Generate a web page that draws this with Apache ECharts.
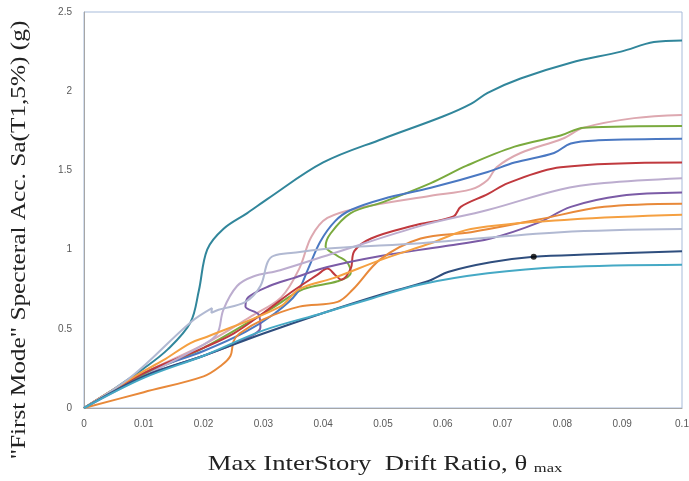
<!DOCTYPE html>
<html><head><meta charset="utf-8">
<script src="https://cdn.jsdelivr.net/npm/echarts@6/dist/echarts.min.js"></script>
<style>html,body{margin:0;padding:0;background:#fff}#c{width:689px;height:481px}</style>
</head><body><div id="c"></div>
<script>
var xTickLabels = ['0','0.01','0.02','0.03','0.04','0.05','0.06','0.07','0.08','0.09','0.1'];
var yTickLabels = ['0','0.5','1','1.5','2','2.5'];
var xTitle = 'Max InterStory  Drift Ratio, θ ';
var xTitleSub = 'max';
var yTitle = '"First Mode" Specteral Acc. Sa(T1,5%) (g)';

var tealData = [[0,0],[0.005,0.12],[0.01,0.25],[0.014,0.37],[0.0178,0.54],[0.0192,0.74],[0.0206,1.0],[0.0233,1.13],[0.0273,1.23],[0.0307,1.32],[0.04,1.55],[0.05,1.70],[0.06,1.84],[0.0647,1.92],[0.0675,1.99],[0.073,2.08],[0.0814,2.18],[0.0898,2.25],[0.0953,2.31],[0.1,2.32]];
var pinkData = [[0,0],[0.01,0.22],[0.02,0.4],[0.028,0.58],[0.033,0.7],[0.036,0.88],[0.038,1.08],[0.0407,1.2],[0.047,1.27],[0.058,1.34],[0.0647,1.38],[0.0675,1.44],[0.069,1.52],[0.073,1.61],[0.08,1.7],[0.0836,1.77],[0.092,1.83],[0.1,1.85]];
var greenData = [[0,0],[0.01,0.21],[0.02,0.38],[0.031,0.62],[0.0367,0.75],[0.0424,0.80],[0.0446,0.85],[0.044,0.92],[0.0424,0.96],[0.0404,1.02],[0.0412,1.1],[0.0446,1.23],[0.05,1.30],[0.058,1.42],[0.064,1.53],[0.072,1.65],[0.0797,1.72],[0.0836,1.77],[0.1,1.78]];
var blueData = [[0,0],[0.01,0.22],[0.02,0.36],[0.027,0.48],[0.032,0.6],[0.0355,0.72],[0.0375,0.88],[0.0395,1.05],[0.042,1.18],[0.0446,1.25],[0.05,1.32],[0.058,1.39],[0.0675,1.49],[0.072,1.55],[0.0786,1.61],[0.0814,1.67],[0.086,1.69],[0.1,1.70]];
var redData = [[0,0],[0.01,0.22],[0.02,0.38],[0.025,0.47],[0.03,0.6],[0.035,0.74],[0.039,0.84],[0.0407,0.88],[0.042,0.84],[0.043,0.81],[0.0446,0.88],[0.0452,0.99],[0.048,1.07],[0.055,1.15],[0.0618,1.21],[0.063,1.27],[0.0675,1.35],[0.0709,1.42],[0.0797,1.52],[0.1,1.55]];
var lightPurpleData = [[0,0],[0.01,0.2],[0.02,0.4],[0.0223,0.47],[0.0233,0.62],[0.0256,0.77],[0.0283,0.83],[0.0328,0.87],[0.042,0.98],[0.0563,1.15],[0.0675,1.25],[0.0797,1.38],[0.087,1.42],[0.1,1.45]];
var purpleData = [[0,0],[0.01,0.2],[0.02,0.33],[0.026,0.42],[0.0295,0.51],[0.0292,0.59],[0.027,0.64],[0.0275,0.7],[0.031,0.77],[0.035,0.82],[0.0407,0.89],[0.0496,0.96],[0.06,1.02],[0.068,1.07],[0.076,1.17],[0.0814,1.27],[0.0898,1.34],[0.1,1.36]];
var orangeAData = [[0,0],[0.01,0.1],[0.02,0.2],[0.023,0.27],[0.0245,0.33],[0.025,0.42],[0.026,0.47],[0.03,0.56],[0.036,0.64],[0.0424,0.67],[0.045,0.75],[0.0496,0.94],[0.0563,1.07],[0.0647,1.11],[0.076,1.19],[0.087,1.27],[0.1,1.29]];
var orangeBData = [[0,0],[0.0094,0.22],[0.0132,0.30],[0.0178,0.41],[0.0206,0.45],[0.0328,0.64],[0.036,0.75],[0.0417,0.82],[0.05,0.94],[0.058,1.04],[0.0647,1.13],[0.0814,1.19],[0.1,1.22]];
var greyData = [[0,0],[0.008,0.2],[0.0178,0.54],[0.0214,0.63],[0.0213,0.6],[0.0225,0.62],[0.027,0.67],[0.0295,0.77],[0.0307,0.92],[0.0317,0.96],[0.035,0.98],[0.042,1.01],[0.0563,1.04],[0.0797,1.11],[0.1,1.13]];
var navyData = [[0,0],[0.01,0.2],[0.02,0.33],[0.03,0.47],[0.04,0.6],[0.05,0.72],[0.0575,0.8],[0.061,0.86],[0.068,0.92],[0.0752,0.955],[0.085,0.97],[0.1,0.99]];
var cyanData = [[0,0],[0.01,0.19],[0.02,0.33],[0.03,0.49],[0.04,0.6],[0.048,0.69],[0.0563,0.78],[0.0675,0.85],[0.08,0.89],[0.1,0.905]];
var dotData = [[0.0752,0.955]];

var seriesDefs = [
  ['Teal', tealData, '#31869B'],
  ['Pink', pinkData, '#DDA8B0'],
  ['Green', greenData, '#7AAA3E'],
  ['Blue', blueData, '#4A78C2'],
  ['Red', redData, '#C0393E'],
  ['LightPurple', lightPurpleData, '#BCADCF'],
  ['Purple', purpleData, '#7B5BA6'],
  ['OrangeA', orangeAData, '#E8893A'],
  ['OrangeB', orangeBData, '#F5A041'],
  ['Grey', greyData, '#B1B9D2'],
  ['Navy', navyData, '#2F4E7E'],
  ['Cyan', cyanData, '#45A9C5']
];

var series = seriesDefs.map(function (d) {
  return {
    name: d[0], type: 'line', data: d[1], smooth: 0.35, showSymbol: false,
    lineStyle: { color: d[2], width: 2 }, itemStyle: { color: d[2] }
  };
});
series.push({
  name: 'Dot', type: 'scatter', data: dotData, symbolSize: 6,
  itemStyle: { color: '#000' }, z: 5
});

var chart = echarts.init(document.getElementById('c'));
chart.setOption({
  animation: false,
  backgroundColor: '#fff',
  grid: { left: 84, right: 7, top: 12, bottom: 73, show: true, borderColor: '#A7BBDA', borderWidth: 1,
    containLabel: false, outerBoundsMode: 'none' },
  xAxis: {
    type: 'value', min: 0, max: 0.1, interval: 0.01,
    axisLine: { show: true, lineStyle: { color: '#A6A6A6', width: 1 } },
    axisTick: { show: false }, splitLine: { show: false },
    axisLabel: { color: '#595959', fontSize: 10, fontFamily: 'Liberation Sans', margin: 11,
      formatter: function (v, i) { return xTickLabels[i]; } }
  },
  yAxis: {
    type: 'value', min: 0, max: 2.5, interval: 0.5,
    axisLine: { show: true, lineStyle: { color: '#A6A6A6', width: 1 } },
    axisTick: { show: false }, splitLine: { show: false },
    axisLabel: { color: '#595959', fontSize: 10, fontFamily: 'Liberation Sans', margin: 12,
      formatter: function (v, i) { return yTickLabels[i]; } }
  },
  graphic: [
    { type: 'text', x: 385, y: 464, scaleX: 1.27, scaleY: 1,
      style: { text: '{a|' + xTitle + '}{b|' + xTitleSub + '}', align: 'center', verticalAlign: 'middle',
        rich: {
          a: { fontFamily: 'Liberation Serif', fontSize: 21, fill: '#222' },
          b: { fontFamily: 'Liberation Serif', fontSize: 13, fill: '#222', padding: [10, 0, 0, 0] }
        } } },
    { type: 'text', x: 19, y: 240, rotation: Math.PI / 2, scaleX: 1.15, scaleY: 1,
      style: { text: yTitle, align: 'center', verticalAlign: 'middle',
        fontFamily: 'Liberation Serif', fontSize: 22, fill: '#222' } }
  ],
  series: series
});
</script>
</body></html>
